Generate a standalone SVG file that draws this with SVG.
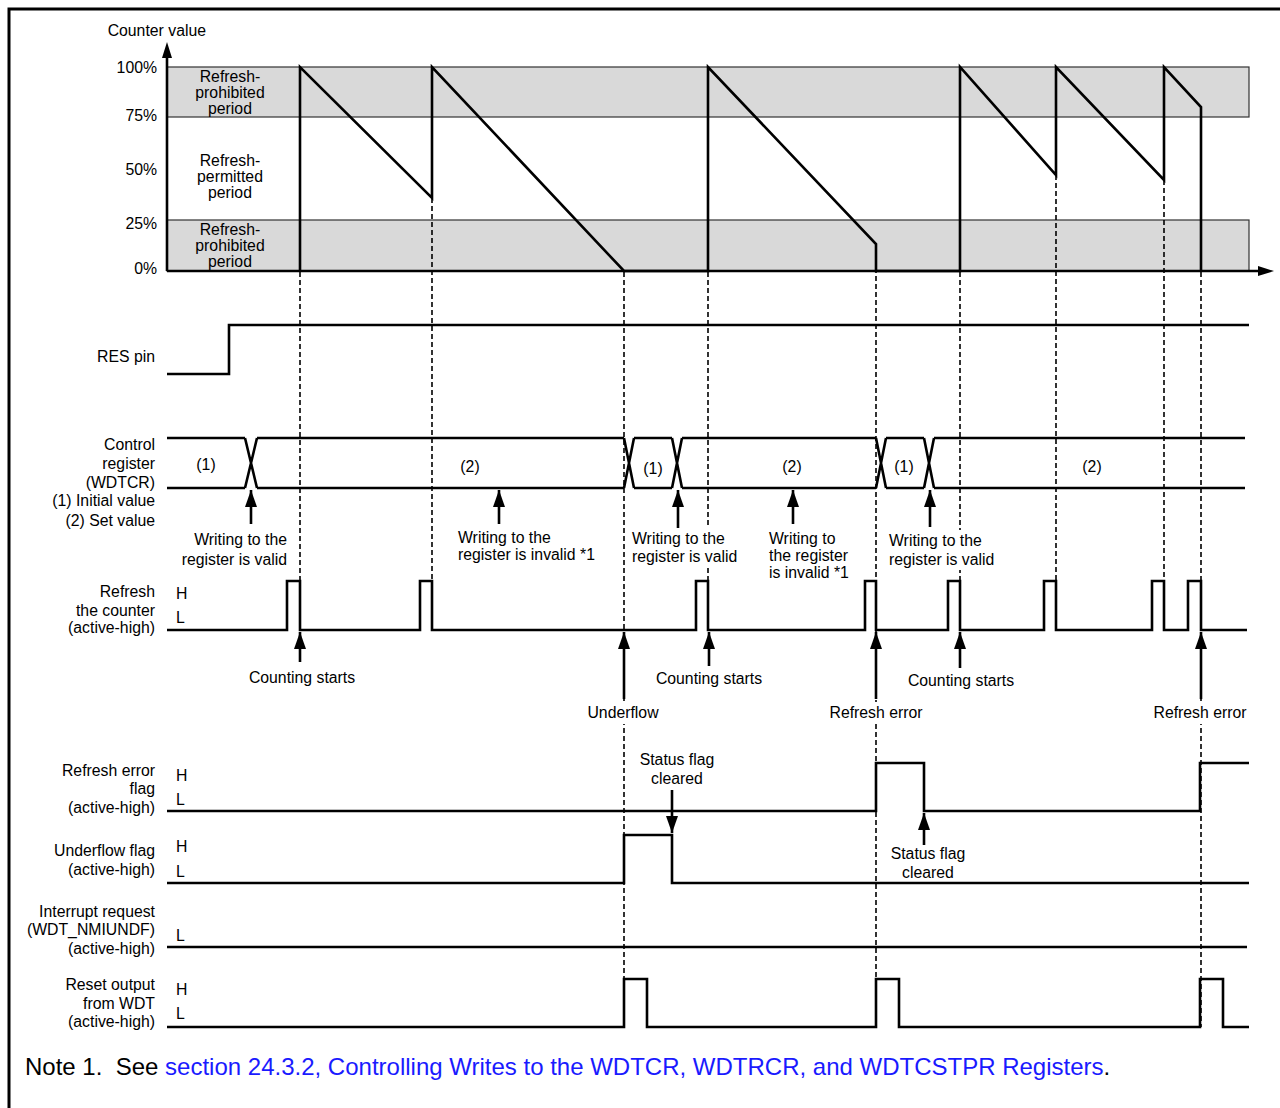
<svg xmlns="http://www.w3.org/2000/svg" width="1280" height="1108" viewBox="0 0 1280 1108">
<style>
text{font-family:"Liberation Sans",Arial,sans-serif;font-size:15.8px;fill:#000}
.r{text-anchor:end}
.m{text-anchor:middle}
.w{fill:none;stroke:#000;stroke-width:2.6;stroke-linejoin:miter}
.d{fill:none;stroke:#000;stroke-width:1.6;stroke-dasharray:5 3}
.a{fill:none;stroke:#000;stroke-width:2.6}
.band{fill:#d9d9d9;stroke:#333;stroke-width:1.2}
.bg{fill:#fff}
.note{font-size:24px}
.link{fill:#1a1aff}
</style>
<defs>
<marker id="ah" markerUnits="userSpaceOnUse" markerWidth="18" markerHeight="12" viewBox="0 0 18 12" refX="17" refY="6" orient="auto-start-reverse">
<path d="M0,0 L17,6 L0,12 Z" fill="#000"/>
</marker>
</defs>
<rect width="1280" height="1108" fill="#fff"/>
<path d="M9,1108 V9 H1280" fill="none" stroke="#000" stroke-width="3"/>

<g id="counter">
<rect class="band" x="167" y="67" width="1082" height="50"/>
<rect class="band" x="167" y="220" width="1082" height="51"/>
<text x="206" y="36" class="r">Counter value</text>
<text x="157" y="73" class="r">100%</text>
<text x="157" y="121" class="r">75%</text>
<text x="157" y="175" class="r">50%</text>
<text x="157" y="229" class="r">25%</text>
<text x="157" y="274" class="r">0%</text>
<text x="230" y="82" class="m">Refresh-</text>
<text x="230" y="98" class="m">prohibited</text>
<text x="230" y="114" class="m">period</text>
<text x="230" y="166" class="m">Refresh-</text>
<text x="230" y="182" class="m">permitted</text>
<text x="230" y="198" class="m">period</text>
<text x="230" y="235" class="m">Refresh-</text>
<text x="230" y="251" class="m">prohibited</text>
<text x="230" y="267" class="m">period</text>
</g>

<g id="connectors">
<path class="d" d="M300,272 V581 M432,198 V581 M624,272 V1027 M708,272 V581 M876,244 V1027 M960,272 V581 M1056,175 V581 M1164,180 V581 M1201,272 V1027"/>
<path class="a" marker-start="url(#ah)" d="M251,490 V524"/>
<path class="a" marker-start="url(#ah)" d="M499,490 V524"/>
<path class="a" marker-start="url(#ah)" d="M678,490 V528"/>
<path class="a" marker-start="url(#ah)" d="M793,490 V524"/>
<path class="a" marker-start="url(#ah)" d="M930,490 V527"/>
<path class="a" marker-start="url(#ah)" d="M300,632 V662"/>
<path class="a" marker-start="url(#ah)" d="M624,632 V699"/>
<path class="a" marker-start="url(#ah)" d="M709,632 V666"/>
<path class="a" marker-start="url(#ah)" d="M876,632 V699"/>
<path class="a" marker-start="url(#ah)" d="M960,632 V668"/>
<path class="a" marker-start="url(#ah)" d="M1201,632 V699"/>
<path class="a" marker-start="url(#ah)" d="M924,813 V845"/>
<path class="a" marker-start="url(#ah)" d="M672,833 V790"/>
</g>

<g id="counter-axes">
<path d="M167,271 V58" class="a"/>
<path d="M167,42 L172,58 L162,58 Z" fill="#000"/>
<path d="M167,271 H1258" class="a"/>
<path d="M1274,271 L1258,266 L1258,276 Z" fill="#000"/>
<path class="w" d="M300,271 V67 L432,198 V67 L624,271 H708 V67 L876,244 V271 H960 V67 L1056,175 V67 L1164,180 V67 L1201,107 V271"/>
</g>

<g id="res-pin">
<text x="155" y="362" class="r">RES pin</text>
<path class="w" d="M167,374 H229 V325 H1249"/>
</g>

<g id="control-register">
<text x="155" y="450" class="r">Control</text>
<text x="155" y="469" class="r">register</text>
<text x="155" y="488" class="r">(WDTCR)</text>
<text x="155" y="506" class="r">(1) Initial value</text>
<text x="155" y="526" class="r">(2) Set value</text>
<path class="w" d="M167,438 H245 M257,438 H624 M634,438 H672 M682,438 H876 M886,438 H924 M934,438 H1245"/>
<path class="w" d="M167,488 H245 M257,488 H624 M634,488 H672 M682,488 H876 M886,488 H924 M934,488 H1245"/>
<path class="w" d="M245,438 L257,488 M245,488 L257,438 M624,438 L634,488 M624,488 L634,438 M672,438 L682,488 M672,488 L682,438 M876,438 L886,488 M876,488 L886,438 M924,438 L934,488 M924,488 L934,438"/>
<text x="206" y="470" class="m">(1)</text>
<text x="470" y="472" class="m">(2)</text>
<text x="653" y="474" class="m">(1)</text>
<text x="792" y="472" class="m">(2)</text>
<text x="904" y="472" class="m">(1)</text>
<text x="1092" y="472" class="m">(2)</text>
<rect class="bg" x="630" y="528" width="110" height="40"/>
<rect class="bg" x="887" y="530" width="110" height="40"/>
<text x="287" y="545" class="r">Writing to the</text>
<text x="287" y="565" class="r">register is valid</text>
<text x="458" y="543">Writing to the</text>
<text x="458" y="560">register is invalid *1</text>
<text x="632" y="544">Writing to the</text>
<text x="632" y="562">register is valid</text>
<text x="769" y="544">Writing to</text>
<text x="769" y="561">the register</text>
<text x="769" y="578">is invalid *1</text>
<text x="889" y="546">Writing to the</text>
<text x="889" y="565">register is valid</text>
</g>

<g id="refresh-counter">
<text x="155" y="597" class="r">Refresh</text>
<text x="155" y="616" class="r">the counter</text>
<text x="155" y="633" class="r">(active-high)</text>
<text x="176" y="599">H</text>
<text x="176" y="623">L</text>
<path class="w" d="M167,630 H287 V581 H300 V630 H420 V581 H432 V630 H696 V581 H708 V630 H865 V581 H876 V630 H948 V581 H960 V630 H1044 V581 H1056 V630 H1152 V581 H1164 V630 H1188 V581 H1201 V630 H1247"/>
<rect class="bg" x="586" y="702" width="76" height="22"/>
<rect class="bg" x="828" y="702" width="96" height="22"/>
<rect class="bg" x="1152" y="702" width="96" height="22"/>
<text x="302" y="683" class="m">Counting starts</text>
<text x="623" y="718" class="m">Underflow</text>
<text x="709" y="684" class="m">Counting starts</text>
<text x="876" y="718" class="m">Refresh error</text>
<text x="961" y="686" class="m">Counting starts</text>
<text x="1200" y="718" class="m">Refresh error</text>
</g>

<g id="refresh-error-flag">
<text x="155" y="776" class="r">Refresh error</text>
<text x="155" y="794" class="r">flag</text>
<text x="155" y="813" class="r">(active-high)</text>
<text x="176" y="781">H</text>
<text x="176" y="805">L</text>
<path class="w" d="M167,811 H876 V763 H924 V811 H1200 V763 H1249"/>
<text x="928" y="859" class="m">Status flag</text>
<text x="928" y="878" class="m">cleared</text>
</g>

<g id="underflow-flag">
<text x="155" y="856" class="r">Underflow flag</text>
<text x="155" y="875" class="r">(active-high)</text>
<text x="176" y="852">H</text>
<text x="176" y="877">L</text>
<path class="w" d="M167,883 H624 V835 H672 V883 H1249"/>
<text x="677" y="765" class="m">Status flag</text>
<text x="677" y="784" class="m">cleared</text>
</g>

<g id="interrupt-request">
<text x="155" y="917" class="r">Interrupt request</text>
<text x="155" y="935" class="r">(WDT_NMIUNDF)</text>
<text x="155" y="954" class="r">(active-high)</text>
<text x="176" y="941">L</text>
<path class="w" d="M167,947 H1247"/>
</g>

<g id="reset-output">
<text x="155" y="990" class="r">Reset output</text>
<text x="155" y="1009" class="r">from WDT</text>
<text x="155" y="1027" class="r">(active-high)</text>
<text x="176" y="995">H</text>
<text x="176" y="1019">L</text>
<path class="w" d="M167,1027 H624 V979 H647 V1027 H876 V979 H899 V1027 H1200 V979 H1223 V1027 H1249"/>
</g>

<g id="note">
<text x="25" y="1075" class="note">Note 1.&#160; See <tspan class="link">section 24.3.2, Controlling Writes to the WDTCR, WDTRCR, and WDTCSTPR Registers</tspan>.</text>
</g>
</svg>
